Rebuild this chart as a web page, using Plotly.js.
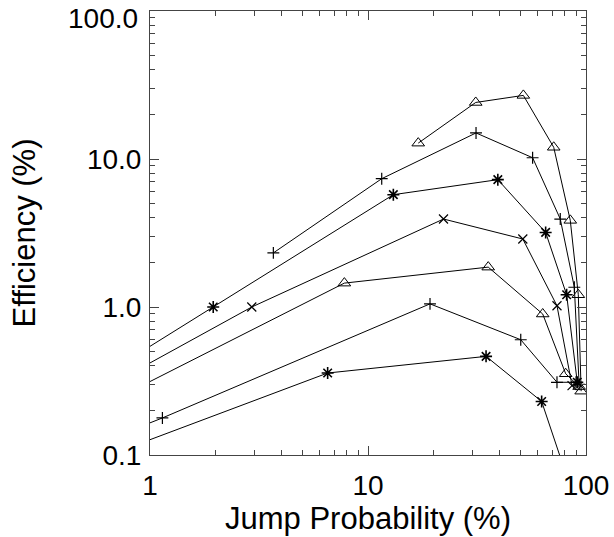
<!DOCTYPE html>
<html>
<head>
<meta charset="utf-8">
<script src="https://cdn.plot.ly/plotly-3.0.1.min.js"></script>
<style>
  html, body { margin: 0; padding: 0; background: #fff; }
  #chart { width: 614px; height: 537px; }
</style>
</head>
<body>
<div id="chart"></div>
<script>
// Jump probability (%) and efficiency (%) per series.
// Points below x = 1 continue the lines off the left edge, as in the reference.
const triUpperX  = [17.0, 31.2, 51.6, 71.1, 84.7, 92.2, 95.0];
const triUpperY  = [12.8, 24.1, 26.9, 12.0, 3.85, 1.21, 0.27];

const plusUpperX = [3.68, 11.56, 31.3, 56.9, 76.2, 88.4, 93.0];
const plusUpperY = [2.32, 7.36, 15.0, 10.2, 3.93, 1.36, 0.30];

const starUpperX = [0.5, 1.95, 13.07, 39.4, 65.3, 81.5, 91.2];
const starUpperY = [0.287, 1.0, 5.74, 7.25, 3.19, 1.21, 0.31];

const crossX     = [0.5, 2.93, 22.2, 51.3, 73.6, 86.3];
const crossY     = [0.239, 1.0, 3.93, 2.88, 1.02, 0.294];

const triLowerX  = [0.5, 7.79, 35.6, 63.3, 80.7, 93.0];
const triLowerY  = [0.187, 1.45, 1.86, 0.897, 0.354, 0.29];

const plusLowerX = [0.5, 1.14, 19.25, 50.2, 73.6, 90.0];
const plusLowerY = [0.11, 0.178, 1.05, 0.601, 0.31, 0.31];

const starLowerX = [0.5, 6.53, 34.8, 62.6, 85.0];
const starLowerY = [0.0865, 0.358, 0.464, 0.230, 0.06];

const xTickVals = [1, 10, 100];
const xTickText = ['1', '10', '100'];
// the top label (100.0) sits just inside the figure, as in the reference
const yTickVals = [0.1, 1, 10, 100];
const yTickText = ['0.1', '1.0', '10.0', '100.0'];

const xTitle = 'Jump Probability (%)';
const yTitle = 'Efficiency (%)';

function series(x, y, symbol, size, lw) {
  return {
    x: x, y: y, type: 'scatter', mode: 'lines+markers',
    line: { color: '#000', width: 1 },
    marker: { symbol: symbol, size: size, color: '#000',
              line: { color: '#000', width: lw } },
    cliponaxis: true, showlegend: false, hoverinfo: 'skip'
  };
}

const data = [
  series(triUpperX, triUpperY, 'triangle-up-open', 11, 1),
  series(plusUpperX, plusUpperY, 'cross-thin-open', 8.5, 1.2),
  series(starUpperX, starUpperY, 'asterisk-open', 10, 1.6),
  series(crossX, crossY, 'x-thin-open', 9, 1.2),
  series(triLowerX, triLowerY, 'triangle-up-open', 11, 1),
  series(plusLowerX, plusLowerY, 'cross-thin-open', 8.5, 1.2),
  series(starLowerX, starLowerY, 'asterisk-open', 10, 1.6)
];

const font = { family: 'Liberation Sans, Arial, Helvetica, sans-serif', color: '#000' };

const axisCommon = {
  type: 'log',
  showgrid: false, zeroline: false,
  showline: true, linecolor: '#444', linewidth: 1,
  mirror: 'allticks',
  ticks: 'inside', ticklen: 9, tickwidth: 1, tickcolor: '#444',
  tickmode: 'array',
  tickfont: Object.assign({ size: 28 }, font),
  minor: { ticks: 'inside', ticklen: 5, tickwidth: 1, tickcolor: '#444', dtick: 'D1', showgrid: false }
};

// Tick labels that fit inside the figure are drawn by the axis; the top one
// is placed as an annotation at its tick, nudged down to stay in view.
const lastY = yTickVals.length - 1;
const yAxisText = yTickText.map((t, i) => i === lastY ? '' : t);

const layout = {
  width: 614, height: 537,
  margin: { l: 150, r: 28, t: 11, b: 82, pad: 0 },
  paper_bgcolor: '#fff', plot_bgcolor: '#fff',
  font: font,
  showlegend: false,
  xaxis: Object.assign({}, axisCommon, {
    range: [0, 2],
    tickvals: xTickVals, ticktext: xTickText,
    ticklabelstandoff: 5,
    title: { text: xTitle, font: Object.assign({ size: 31 }, font), standoff: 0 }
  }),
  yaxis: Object.assign({}, axisCommon, {
    range: [-1, 2],
    tickvals: yTickVals, ticktext: yAxisText,
    ticklabelstandoff: 2,
    title: { text: yTitle, font: Object.assign({ size: 31 }, font), standoff: 42 }
  }),
  annotations: [{
    xref: 'paper', x: 0, xanchor: 'right', xshift: -10,
    yref: 'y', y: Math.log10(yTickVals[lastY]), yanchor: 'middle', yshift: -7,
    text: yTickText[lastY], showarrow: false,
    font: Object.assign({ size: 28 }, font)
  }]
};

Plotly.newPlot('chart', data, layout, { staticPlot: true, displayModeBar: false });
</script>
</body>
</html>
